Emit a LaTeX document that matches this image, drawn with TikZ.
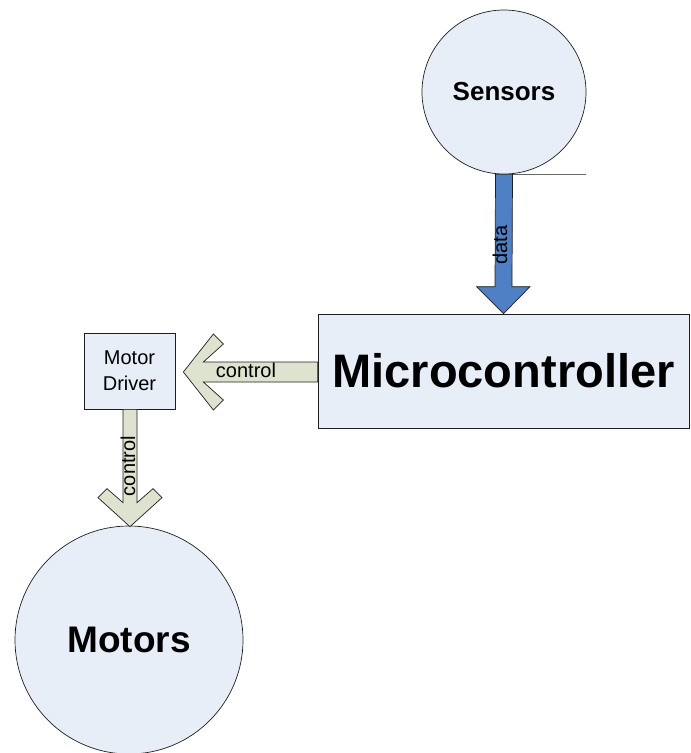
\documentclass[tikz,border=0pt]{standalone}
\usepackage{fontspec}
\setmainfont{Liberation Sans}
\usetikzlibrary{calc}
\definecolor{boxfill}{RGB}{232,238,248}
\definecolor{datafill}{RGB}{79,127,196}
\definecolor{ctrlfill}{RGB}{221,227,206}
\definecolor{edge}{RGB}{30,30,30}
\tikzset{
  blockshape/.style={draw=edge, line width=0.7pt, fill=boxfill, inner sep=0pt, align=center},
  roundblock/.style={blockshape, circle},
  rectblock/.style={blockshape, rectangle},
  dataarrow/.style={draw=edge, line width=0.7pt, fill=datafill, line join=miter},
  ctrlarrow/.style={draw=edge, line width=0.7pt, fill=ctrlfill, line join=miter},
  arrowlabel/.style={inner sep=0pt, font=\fontsize{20}{24}\selectfont},
}
\begin{document}
\begin{tikzpicture}[x=1pt,y=-1pt]
\useasboundingbox (0,0) rectangle (691,753);
% nodes
\node[roundblock, minimum size=164pt, font=\bfseries\fontsize{26}{30}\selectfont] (sens) at (504,92) {Sensors};
\node[rectblock, minimum width=371pt, minimum height=114pt, font=\bfseries\fontsize{47}{54}\selectfont] (mc) at (503.5,371) {Microcontroller};
\node[rectblock, minimum width=91pt, minimum height=76pt, font=\fontsize{20}{26}\selectfont] (md) at (129.5,371) {Motor\\Driver};
\node[roundblock, minimum size=228pt, font=\bfseries\fontsize{37}{44}\selectfont] (mot) at (129,640) {Motors};

% stray line at bottom of Sensors
\coordinate (lineend) at ($(sens.south)+(82,0)$);
\draw[draw=black!60, line width=0.8pt] ($(sens.south)+(8,0)$) -- (lineend);

% data arrow: Sensors -> Microcontroller
\draw[dataarrow]
  ($(sens.south)+(-8.5,0)$) -- ($(mc.north)+(-8.5,-27)$) -- ($(mc.north)+(-27,-27)$)
  -- (mc.north) -- ($(mc.north)+(26.5,-27)$) -- ($(mc.north)+(8.5,-27)$)
  -- ($(sens.south)+(8.5,0)$) -- cycle;
\node[arrowlabel, rotate=90, anchor=base] (datalbl) at (507,245) {data};

% control arrow: Microcontroller -> Motor Driver
\coordinate (tipA) at ($(md.east)+(8,1)$);
\draw[ctrlarrow]
  (tipA) -- ($(tipA)+(30,-38)$) -- ($(tipA)+(40,-28)$) -- ($(tipA)+(20,-10)$)
  -- ($(mc.west)+(0,-9)$) -- ($(mc.west)+(0,11)$)
  -- ($(tipA)+(20,10)$) -- ($(tipA)+(40,28)$) -- ($(tipA)+(30,38)$) -- cycle;
\node[arrowlabel, anchor=base] (ctrlA) at (246,377) {control};

% control arrow: Motor Driver -> Motors
\coordinate (tipB) at ($(mot.north)+(1,1)$);
\draw[ctrlarrow]
  (tipB) -- ($(tipB)+(-32,-29)$) -- ($(tipB)+(-23,-38)$) -- ($(tipB)+(-7,-24)$)
  -- ($(md.south)+(-6.5,0)$) -- ($(md.south)+(7.5,0)$)
  -- ($(tipB)+(7,-24)$) -- ($(tipB)+(23,-38)$) -- ($(tipB)+(32,-29)$) -- cycle;
\node[arrowlabel, rotate=90, anchor=base] (ctrlB) at (135,466) {control};
\end{tikzpicture}
\end{document}
